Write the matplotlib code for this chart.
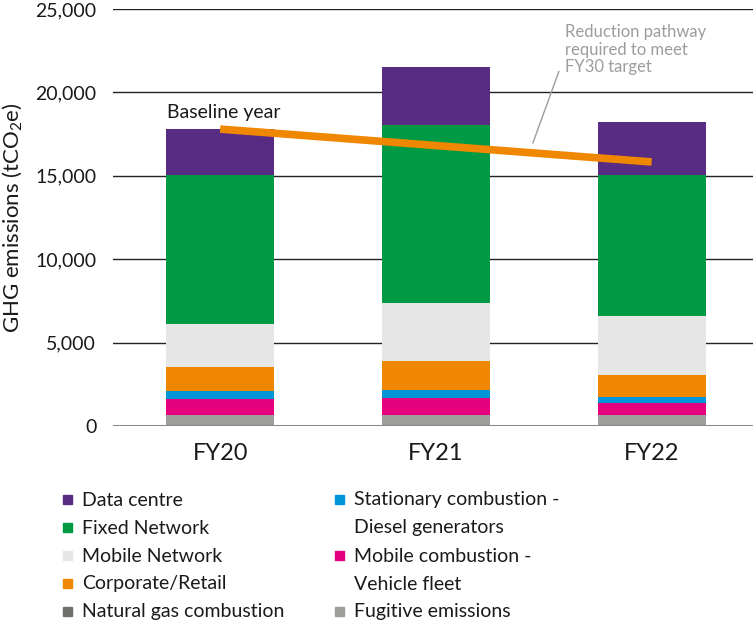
import numpy as np
import matplotlib
matplotlib.use("Agg")
import matplotlib.pyplot as plt
from matplotlib.patches import Rectangle

plt.rcParams['font.family'] = ['Lato', 'DejaVu Sans']
plt.rcParams['mathtext.fontset'] = 'custom'
plt.rcParams['mathtext.rm'] = 'Lato'
plt.rcParams['mathtext.it'] = 'Lato'

years = ['FY20', 'FY21', 'FY22']

# stacked from bottom to top
fugitive = [660, 660, 660]
natural_gas = [15, 15, 15]
vehicle_fleet = [940, 1015, 700]
diesel_gen = [475, 480, 355]
corporate = [1435, 1710, 1320]
mobile_net = [2565, 3470, 3540]
fixed_net = [8980, 10690, 8480]
data_centre = [2750, 3460, 3150]

pathway_years = ['FY20', 'FY22']
pathway_vals = [17800, 15830]

series = [
    ('Fugitive emissions', fugitive, '#9d9d9c'),
    ('Natural gas combustion', natural_gas, '#6f6f6e'),
    ('Mobile combustion -\nVehicle fleet', vehicle_fleet, '#e5007e'),
    ('Stationary combustion -\nDiesel generators', diesel_gen, '#0095d6'),
    ('Corporate/Retail', corporate, '#f08700'),
    ('Mobile Network', mobile_net, '#e6e6e6'),
    ('Fixed Network', fixed_net, '#009a44'),
    ('Data centre', data_centre, '#582c83'),
]

fig = plt.figure(figsize=(7.53, 6.25), dpi=100)
ax = fig.add_axes([0.150, 0.3184, 0.850, 0.6672])

x = np.arange(len(years))
bottom = np.zeros(len(years))
for name, vals, col in series:
    ax.bar(x, vals, width=0.5, bottom=bottom, color=col, zorder=2, linewidth=0)
    bottom += np.array(vals)

px = [years.index(y) for y in pathway_years]
ax.plot(px, pathway_vals, color='#f08700', lw=5.5, solid_capstyle='butt', zorder=4)

ax.set_xlim(-0.497, 2.47)
ax.set_ylim(0, 25000)
ax.set_yticks(np.arange(0, 25001, 5000))
ax.set_yticklabels(['0', '5,000', '10,000', '15,000', '20,000', '25,000'])
ax.set_xticks(x)
ax.set_xticklabels(years)
for yv in range(5000, 25001, 5000):
    ax.axhline(yv, color='#222222', lw=1.0, zorder=1)
ax.axhline(0, color='#8a8a8a', lw=2.2, zorder=3)
for s in ax.spines.values():
    s.set_visible(False)
ax.tick_params(axis='y', length=0, pad=12, labelsize=14, colors='#1a1a1a')
ax.tick_params(axis='x', length=0, pad=12, labelsize=17, colors='#1a1a1a')
ax.set_ylabel(r'GHG emissions (tCO$_2$e)', fontsize=16, color='#1a1a1a', labelpad=8)

ax.text(-0.245, 18300, 'Baseline year', fontsize=14, color='#1a1a1a', va='bottom')
ax.text(1.60, 21050, 'Reduction pathway\nrequired to meet\nFY30 target', fontsize=12,
        color='#9d9d9c', va='bottom', linespacing=1.1)
ax.plot([1.57, 1.45], [21250, 16980], color='#9d9d9c', lw=1.0, zorder=5)

# legend, two columns drawn by hand
col1 = ['Data centre', 'Fixed Network', 'Mobile Network', 'Corporate/Retail', 'Natural gas combustion']
col2 = ['Stationary combustion -\nDiesel generators', 'Mobile combustion -\nVehicle fleet', 'Fugitive emissions']
colors = {name: col for name, vals, col in series}
W, H = 753.0, 625.0
row_y = [500, 528, 556, 584, 612]
for i, name in enumerate(col1):
    fig.patches.append(Rectangle(((63) / W, 1 - (row_y[i] + 4) / H), 9 / W, 9 / H,
                                 transform=fig.transFigure, color=colors[name]))
    fig.text(82 / W, 1 - row_y[i] / H, name, fontsize=14, color='#1a1a1a', va='center')
col2_rows = [0, 2, 4]
for i, name in zip(col2_rows, col2):
    fig.patches.append(Rectangle((335 / W, 1 - (row_y[i] + 4) / H), 9 / W, 9 / H,
                                 transform=fig.transFigure, color=colors[name]))
    lines = name.split('\n')
    for j, ln in enumerate(lines):
        fig.text(354 / W, 1 - row_y[i + j] / H, ln, fontsize=14, color='#1a1a1a', va='center')

fig.savefig('out.png', dpi=100)
